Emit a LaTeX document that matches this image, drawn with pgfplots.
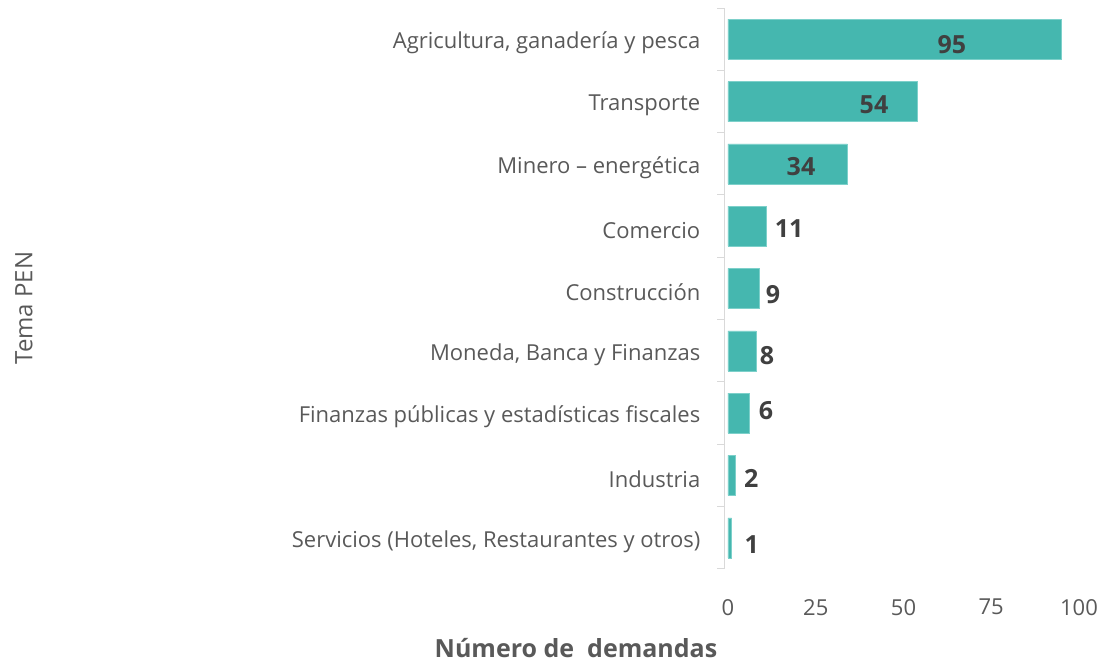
\documentclass[border=0pt]{standalone}
\usepackage{fontspec}
\setmainfont{Open Sans}
\usepackage{pgfplots}
\pgfplotsset{compat=1.18}
\usepackage{pgfplotstable}

\definecolor{barteal}{RGB}{69,183,175}
\definecolor{barline}{RGB}{125,208,202}
\definecolor{axgray}{RGB}{217,217,217}
\definecolor{txtgray}{RGB}{89,89,89}
\definecolor{valgray}{RGB}{64,64,64}

% pos: 0 = bottom category
\pgfplotstableread{
pos val lx   ly
0   1   6.8  -0.11
1   2   6.6  0.96
2   6   10.8 2.04
3   8   11.1 2.92
4   9   12.8 3.90
5   11  17.4 4.96
6   34  20.8 5.95
7   54  41.6 6.95
8   95  63.8 7.91
}\demandas

\begin{document}
\begin{tikzpicture}
\useasboundingbox (-724.5pt,-94pt) rectangle (376.5pt,569pt);
\begin{axis}[
  at={(0,0)}, anchor=south west,
  scale only axis,
  width=354.5pt, height=561pt,
  xmin=-1, xmax=100,
  ymin=-0.5, ymax=8.5,
  /pgf/number format/assume math mode=true,
  axis lines*=left,
  x axis line style={draw=none},
  y axis line style={draw=axgray, line width=1pt},
  xtick={0,25,50,75,100},
  xtick style={draw=none},
  xticklabel style={font=\fontsize{22}{26}\selectfont, text=txtgray,
                    inner sep=0pt, anchor=north, yshift=-23pt},
  ytick={-0.5,0.5,...,8.5},
  y tick label as interval,
  yticklabels={{Servicios (Hoteles, Restaurantes y otros)},
               Industria,
               Finanzas públicas y estadísticas fiscales,
               {Moneda, Banca y Finanzas},
               Construcción,
               Comercio,
               Minero – energética,
               Transporte,
               {Agricultura, ganadería y pesca}},
  ytick style={draw=axgray, line width=1pt},
  tick align=outside,
  major tick length=7pt,
  yticklabel style={font=\fontsize{22}{26}\selectfont, text=txtgray,
                    inner sep=0pt, anchor=east, xshift=-17pt, yshift=-4pt},
  xlabel={Número de\ \ demandas},
  xlabel style={font=\bfseries\fontsize{25}{28}\selectfont, text=txtgray,
                inner sep=0pt, at={(rel axis cs:-0.419,0)}, anchor=center,
                yshift=-79pt},
  ylabel={Tema PEN},
  ylabel style={font=\fontsize{24}{28}\selectfont, text=txtgray,
                at={(rel axis cs:-1.976,0.465)}, anchor=center},
  clip=false,
]
  \addplot[xbar, bar width=40pt, bar shift=0pt, fill=barteal, draw=barline]
    table[x=val, y=pos] {\demandas};
  \addplot[draw=none, nodes near coords, point meta=explicit,
           nodes near coords align={center},
           every node near coord/.append style={font=\bfseries\fontsize{25}{28}\selectfont,
                                               text=valgray, anchor=center}]
    table[x=lx, y=ly, meta=val] {\demandas};
\end{axis}
\end{tikzpicture}
\end{document}
